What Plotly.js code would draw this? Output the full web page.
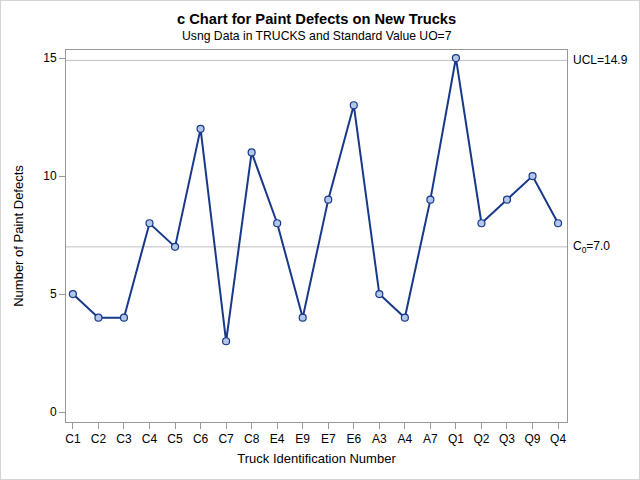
<!DOCTYPE html>
<html>
<head>
<meta charset="utf-8">
<script src="https://cdn.plot.ly/plotly-3.0.1.min.js"></script>
<style>
  body { margin: 0; background: #fff; }
  #chart { width: 638px; height: 478px; border: 1px solid #d4d4d4; }
</style>
</head>
<body>
<div id="chart"></div>
<script>
// c chart data: defects per truck
const trucks = ['C1', 'C2', 'C3', 'C4', 'C5', 'C6', 'C7', 'C8', 'E4', 'E9',
                'E7', 'E6', 'A3', 'A4', 'A7', 'Q1', 'Q2', 'Q3', 'Q9', 'Q4'];
const defects = [5, 4, 4, 8, 7, 12, 3, 11, 8, 4, 9, 13, 5, 4, 9, 15, 8, 9, 10, 8];

const centerLine = 7.0;
const ucl = 14.9;

const lineColor = '#183889';

const trace = {
    x: trucks,
    y: defects,
    type: 'scatter',
    mode: 'lines+markers',
    line: { color: lineColor, width: 2 },
    marker: { size: 7, color: '#b3c7e8', line: { color: lineColor, width: 1.2 } },
    cliponaxis: false,
    hoverinfo: 'x+y'
};

const layout = {
    width: 638,
    height: 478,
    margin: { l: 65, r: 72, t: 49, b: 57 },
    paper_bgcolor: '#ffffff',
    plot_bgcolor: '#ffffff',
    font: { family: 'Liberation Sans, Arial, sans-serif', size: 12, color: '#000' },
    showlegend: false,
    xaxis: {
        type: 'category',
        range: [-0.27, 19.35],
        showgrid: false,
        zeroline: false,
        showline: true,
        linecolor: '#999999',
        mirror: true,
        ticks: 'outside',
        ticklen: 6,
        tickcolor: '#999999',
        tickfont: { size: 12 },
        title: { text: 'Truck Identification Number', font: { size: 13 }, standoff: 8 }
    },
    yaxis: {
        range: [-0.42, 15.34],
        tickvals: [0, 5, 10, 15],
        showgrid: false,
        zeroline: false,
        showline: true,
        linecolor: '#999999',
        mirror: true,
        ticks: 'outside',
        ticklen: 6,
        tickcolor: '#999999',
        tickfont: { size: 12 },
        title: { text: 'Number of Paint Defects', font: { size: 13 }, standoff: 16 }
    },
    shapes: [
        { type: 'line', xref: 'paper', x0: 0, x1: 1, yref: 'y', y0: ucl, y1: ucl,
          line: { color: '#bfbfbf', width: 1 }, layer: 'below' },
        { type: 'line', xref: 'paper', x0: 0, x1: 1, yref: 'y', y0: centerLine, y1: centerLine,
          line: { color: '#bfbfbf', width: 1 }, layer: 'below' }
    ],
    annotations: [
        { text: '<b>c Chart for Paint Defects on New Trucks</b>', xref: 'paper', yref: 'paper',
          x: 0.5, y: 1, yshift: 31, xanchor: 'center', yanchor: 'middle', showarrow: false,
          font: { size: 14.7 } },
        { text: 'Usng Data in TRUCKS and Standard Value UO=7', xref: 'paper', yref: 'paper',
          x: 0.5, y: 1, yshift: 14, xanchor: 'center', yanchor: 'middle', showarrow: false,
          font: { size: 12.2 } },
        { text: 'UCL=' + ucl.toFixed(1), xref: 'paper', yref: 'y', x: 1, y: ucl,
          xanchor: 'left', xshift: 4, showarrow: false, font: { size: 12 } },
        { text: 'C<sub>0</sub>=' + centerLine.toFixed(1), xref: 'paper', yref: 'y', x: 1, y: centerLine,
          xanchor: 'left', xshift: 4, showarrow: false, font: { size: 12 } }
    ]
};

Plotly.newPlot('chart', [trace], layout, { displayModeBar: false, staticPlot: true });
</script>
</body>
</html>
